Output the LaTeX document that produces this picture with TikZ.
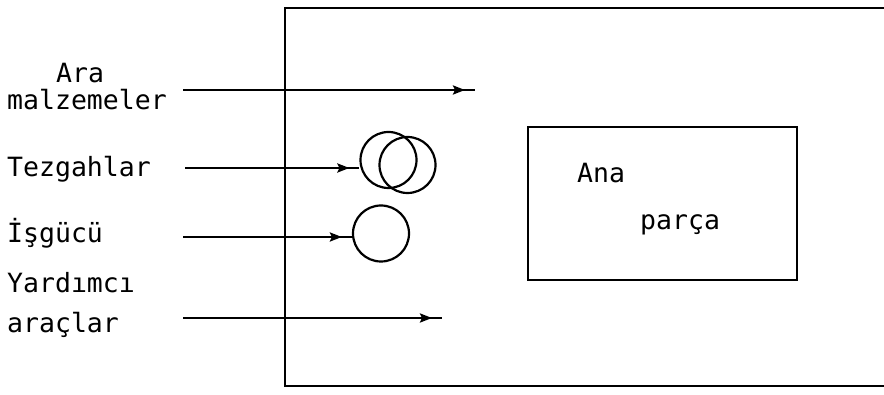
\documentclass[tikz,border=0pt]{standalone}
\usepackage{fontspec}
\setmonofont{DejaVu Sans Mono}
\usetikzlibrary{arrows.meta,decorations.markings}
\begin{document}
\begin{tikzpicture}[x=1pt,y=-1pt,
  lbl/.style={font=\ttfamily\fontsize{26.5}{30}\selectfont, anchor=base west, inner sep=0pt},
  frameline/.style={line width=2.3pt},
  feed/.style={line width=2.8pt, postaction={decorate},
    decoration={markings, mark=at position -10pt with {\arrow{Stealth[length=12pt,width=9pt,inset=2pt]}}}},
  ring/.style={circle, draw, line width=2.2pt, minimum size=56pt, inner sep=0pt},
  partbox/.style={draw, line width=2.5pt, inner sep=0pt}]
\useasboundingbox (0,0) rectangle (884,395);

% open production frame
\draw[frameline] (890,8) -- (285,8) -- (285,386) -- (890,386);

% main part block
\node[partbox, minimum width=269pt, minimum height=153pt] (part) at (662.5,203.5) {};
\node[lbl] (ana) at (577,183) {Ana};
\node[lbl] (parca) at (640,230) {parça};

% input labels
\node[lbl] (l1a) at (56,83) {Ara};
\node[lbl] (l1b) at (7,110) {malzemeler};
\node[lbl] (l2) at (7,177) {Tezgahlar};
\node[lbl] (l3) at (7,243) {İşgücü};
\node[lbl] (l4a) at (7,293) {Yardımcı};
\node[lbl] (l4b) at (7,333) {araçlar};

% machines and labour
\node[ring] (m1) at (388.5,160) {};
\node[ring] (m2) at (407.5,165) {};
\node[ring] (w1) at (381,233.5) {};

% feed lines
\coordinate (s1) at (183,90);
\coordinate (e1) at (475,90);
\coordinate (s2) at (185,168);
\coordinate (s3) at (183,237);
\coordinate (s4) at (183,318);
\coordinate (e4) at (442,318);

\draw[feed] (s1) -- (e1);
\draw[feed] (s2) -- (m1.west |- s2);
\draw[feed] (s3) -- (w1.west |- s3);
\draw[feed] (s4) -- (e4);
\end{tikzpicture}
\end{document}
